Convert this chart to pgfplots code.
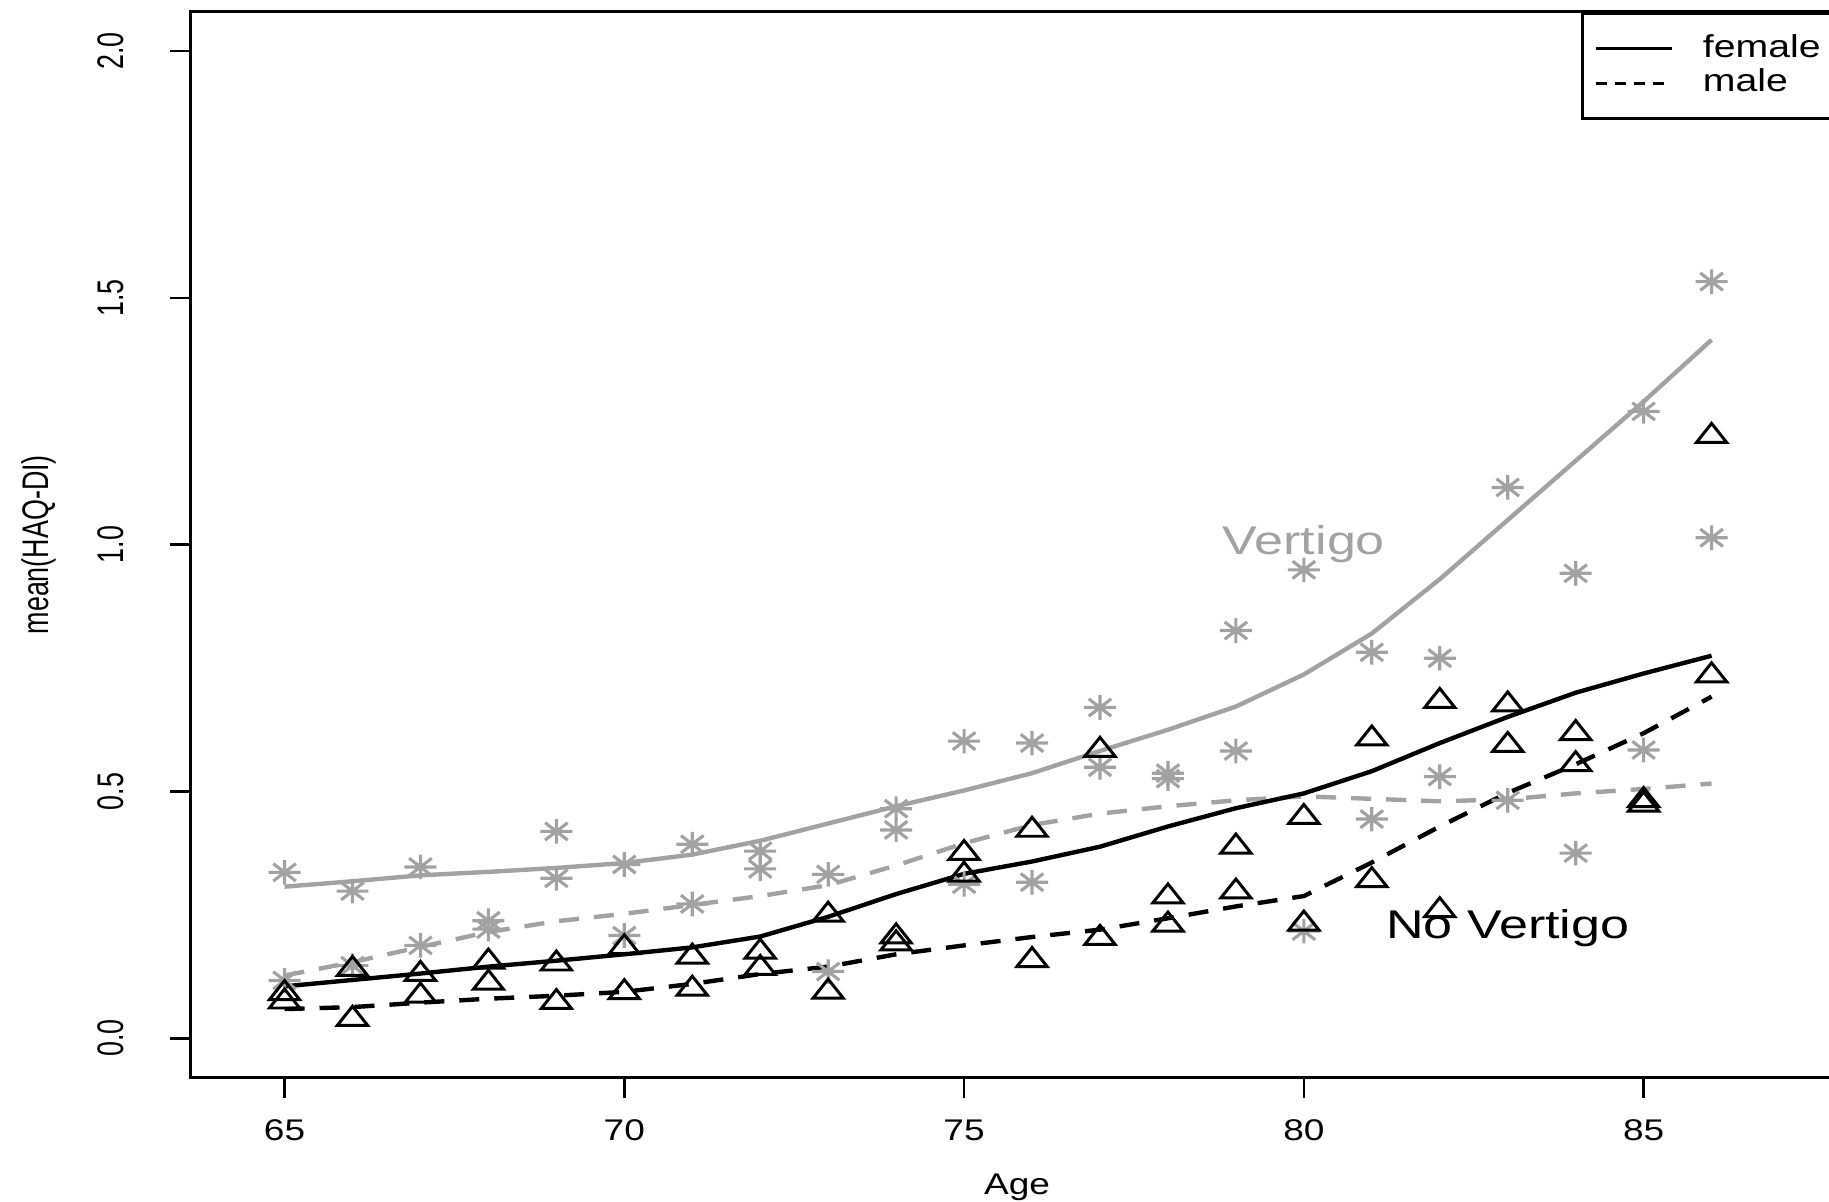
\documentclass[border=0pt]{standalone}
\usepackage{pgfplots}
\pgfplotsset{compat=1.18}
\usepackage{fontspec}
\setmainfont{Liberation Sans}
\definecolor{rgray}{RGB}{162,162,162}
\newcommand{\hs}[1]{\scalebox{1.24}[1]{#1}}
\newcommand{\vs}[1]{\scalebox{0.9}[1.24]{#1}}
\pgfdeclareplotmark{rstar}{%
  \pgfpathmoveto{\pgfqpoint{-\pgfplotmarksize}{0pt}}\pgfpathlineto{\pgfqpoint{\pgfplotmarksize}{0pt}}%
  \pgfpathmoveto{\pgfqpoint{0pt}{-\pgfplotmarksize}}\pgfpathlineto{\pgfqpoint{0pt}{\pgfplotmarksize}}%
  \pgfpathmoveto{\pgfqpoint{-0.707\pgfplotmarksize}{-0.707\pgfplotmarksize}}\pgfpathlineto{\pgfqpoint{0.707\pgfplotmarksize}{0.707\pgfplotmarksize}}%
  \pgfpathmoveto{\pgfqpoint{-0.707\pgfplotmarksize}{0.707\pgfplotmarksize}}\pgfpathlineto{\pgfqpoint{0.707\pgfplotmarksize}{-0.707\pgfplotmarksize}}%
  \pgfusepathqstroke}
\begin{document}
\begin{tikzpicture}
\begin{axis}[name=ax, scale only axis, width=16.54cm, height=10.66cm,
  xmin=63.61, xmax=87.95, ymin=-0.08, ymax=2.08,
  xtick={65,70,75,80,85}, xticklabels={\hs{65},\hs{70},\hs{75},\hs{80},\hs{85}},
  ytick={0,0.5,1,1.5,2}, yticklabels={\vs{0.0},\vs{0.5},\vs{1.0},\vs{1.5},\vs{2.0}},
  tick pos=left, tick align=outside, major tick length=0.2cm,
  axis line style={line width=0.85pt},
  every tick/.style={black, line width=0.75pt},
  xticklabel style={font=\fontsize{8.5}{10}\selectfont, anchor=center, yshift=-0.33cm},
  yticklabel style={font=\fontsize{8.5}{10}\selectfont, rotate=90, anchor=center, yshift=0.59cm},
  xlabel={\hs{Age}}, xlabel style={at={(axis description cs:0.5,-0.1032)}, anchor=center, font=\fontsize{8.5}{10}\selectfont},
  ylabel={\vs{mean(HAQ-DI)}}, ylabel style={at={(axis description cs:-0.0915,0.5)}, anchor=center, font=\fontsize{8.5}{10}\selectfont},
  legend style={at={(axis description cs:0.8407,1)}, anchor=north west, draw=black, line width=0.85pt, fill=white,
    font=\fontsize{9}{10}\selectfont, inner xsep=0.12cm, inner ysep=0.17cm, row sep=-0.02cm, cells={anchor=west},
    nodes={inner ysep=1.2pt}},
  legend image code/.code={\draw[#1] (0cm,0cm) -- (0.76cm,0cm);},
]
% Vertigo points (gray asterisks)
\addplot[only marks, mark=rstar, mark size=3.5pt, draw=rgray, mark options={xscale=1.3, line width=0.9pt}, forget plot] coordinates {
(65,0.336)(66,0.298)(67,0.347)(68,0.238)(69,0.419)(70,0.352)(71,0.393)(72,0.379)(73,0.332)(74,0.465)(75,0.602)
(76,0.598)(77,0.670)(78,0.537)(79,0.826)(80,0.949)(81,0.782)(82,0.770)(83,1.116)(84,0.942)(85,1.270)(86,1.533)};
\addplot[only marks, mark=rstar, mark size=3.5pt, draw=rgray, mark options={xscale=1.3, line width=0.9pt}, forget plot] coordinates {
(65,0.117)(66,0.147)(67,0.188)(68,0.221)(69,0.324)(70,0.208)(71,0.272)(72,0.343)(73,0.135)(74,0.422)(75,0.312)
(76,0.316)(77,0.549)(78,0.526)(79,0.582)(80,0.217)(81,0.444)(82,0.530)(83,0.482)(84,0.375)(85,0.584)(86,1.014)};
% No vertigo points (triangles)
\addplot[only marks, mark=triangle, mark size=4pt, draw=black, mark options={xscale=1.24, yscale=0.9, line width=0.85pt}, forget plot] coordinates {
(65,0.091)(66,0.140)(67,0.130)(68,0.155)(69,0.151)(70,0.184)(71,0.165)(72,0.175)(73,0.250)(74,0.206)(75,0.375)
(76,0.422)(77,0.584)(78,0.287)(79,0.388)(80,0.448)(81,0.607)(82,0.683)(83,0.676)(84,0.618)(85,0.482)(86,1.220)};
\addplot[only marks, mark=triangle, mark size=4pt, draw=black, mark options={xscale=1.24, yscale=0.9, line width=0.85pt}, forget plot] coordinates {
(65,0.074)(66,0.039)(67,0.086)(68,0.112)(69,0.073)(70,0.093)(71,0.100)(72,0.142)(73,0.094)(74,0.192)(75,0.331)
(76,0.158)(77,0.203)(78,0.230)(79,0.297)(80,0.232)(81,0.320)(82,0.259)(83,0.594)(84,0.555)(85,0.473)(86,0.735)};
% smooth lines
\addplot[rgray, line width=1.25pt, no marks, forget plot] coordinates {
(65,0.307)(66,0.318)(67,0.330)(68,0.337)(69,0.345)(70,0.355)(71,0.372)(72,0.400)(73,0.435)(74,0.470)(75,0.502)
(76,0.537)(77,0.582)(78,0.625)(79,0.672)(80,0.737)(81,0.820)(82,0.930)(83,1.050)(84,1.170)(85,1.290)(86,1.415)};
\addplot[rgray, line width=1.25pt, no marks, dash pattern=on 0.2cm off 0.15cm, forget plot] coordinates {
(65,0.127)(66,0.154)(67,0.185)(68,0.215)(69,0.237)(70,0.252)(71,0.270)(72,0.288)(73,0.310)(74,0.350)(75,0.395)
(76,0.432)(77,0.455)(78,0.470)(79,0.482)(80,0.490)(81,0.485)(82,0.480)(83,0.484)(84,0.496)(85,0.505)(86,0.516)};
\addplot[black, line width=1.25pt, no marks, forget plot] coordinates {
(65,0.105)(66,0.118)(67,0.131)(68,0.145)(69,0.157)(70,0.170)(71,0.184)(72,0.206)(73,0.246)(74,0.292)(75,0.333)
(76,0.358)(77,0.388)(78,0.429)(79,0.466)(80,0.496)(81,0.541)(82,0.598)(83,0.651)(84,0.700)(85,0.739)(86,0.775)};
\addplot[black, line width=1.25pt, no marks, dash pattern=on 0.2cm off 0.15cm, forget plot] coordinates {
(65,0.059)(66,0.063)(67,0.072)(68,0.080)(69,0.086)(70,0.094)(71,0.110)(72,0.130)(73,0.145)(74,0.170)(75,0.188)
(76,0.205)(77,0.220)(78,0.243)(79,0.267)(80,0.288)(81,0.356)(82,0.429)(83,0.497)(84,0.555)(85,0.618)(86,0.692)};
\addlegendimage{black, line width=0.8pt}
\addlegendentry{\hspace{0.23cm}\hs{female}\hspace{0.5cm}}
\addlegendimage{black, line width=0.8pt, dash pattern=on 0.11cm off 0.08cm}
\addlegendentry{\hspace{0.23cm}\hs{male}}
\node[anchor=base, text=rgray, font=\fontsize{11.4}{13}\selectfont] at (axis cs:80,0.981) {\scalebox{1.3}[1]{Vertigo}};
\node[anchor=base, text=black, font=\fontsize{11.4}{13}\selectfont] at (axis cs:83,0.201) {\scalebox{1.3}[1]{No Vertigo}};
\end{axis}
\pgfresetboundingbox
\path[use as bounding box] ([xshift=-1.901cm,yshift=-1.242cm]ax.south west) rectangle ([xshift=16.389cm,yshift=0.117cm]ax.north west);
\end{tikzpicture}
\end{document}
